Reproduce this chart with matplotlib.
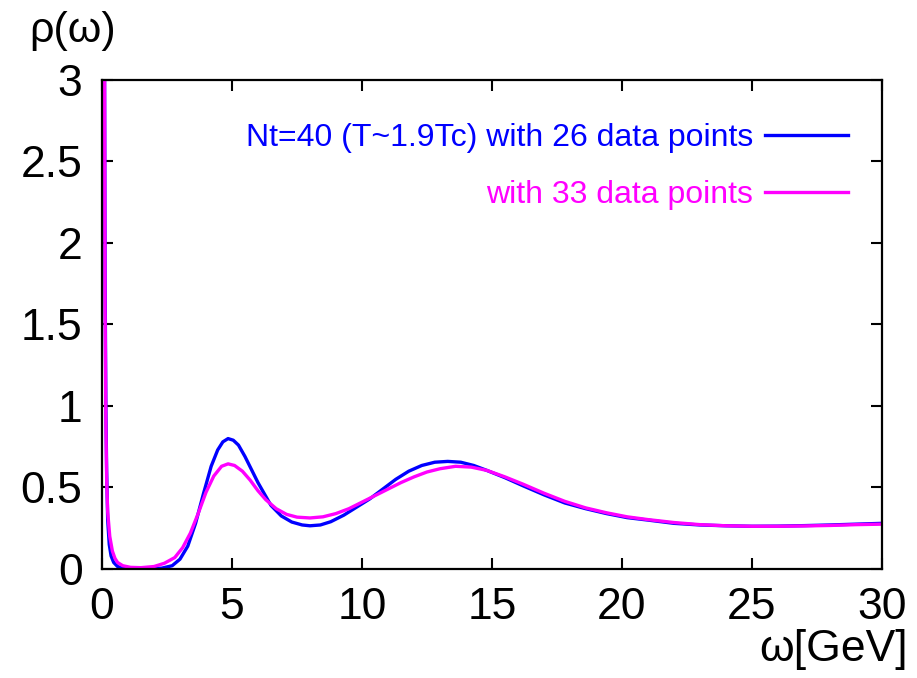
import matplotlib
matplotlib.use('Agg')
import matplotlib.pyplot as plt

plt.rcParams['font.family'] = ['Liberation Sans', 'DejaVu Sans']

# values, Nt=40, 26 data points (blue)
w_26 = [0.04, 0.08, 0.10, 0.12, 0.15, 0.18, 0.22, 0.28, 0.35, 0.45, 0.6, 0.8, 1.2, 1.8,
        2.3, 2.7, 3.0, 3.3, 3.6, 3.9, 4.2, 4.45, 4.65, 4.85, 5.05, 5.25, 5.5, 5.75,
        6.0, 6.25, 6.5, 6.9, 7.3, 7.7, 8.0, 8.4, 8.8, 9.3, 9.8, 10.3, 10.8, 11.3, 11.8,
        12.3, 12.8, 13.3, 13.8, 14.3, 14.8, 15.5, 16.2, 17.0, 17.8, 18.6, 19.4, 20.2,
        21.0, 22.0, 23.0, 24.0, 25.0, 26.0, 27.0, 28.0, 29.0, 30.0]
rho_26 = [8.0, 4.0, 3.0, 1.8, 1.0, 0.6, 0.3, 0.15, 0.08, 0.04, 0.015, 0.005, 0.0, 0.0,
          0.005, 0.02, 0.06, 0.14, 0.28, 0.46, 0.63, 0.73, 0.78, 0.80, 0.79, 0.76,
          0.69, 0.61, 0.53, 0.46, 0.39, 0.325, 0.288, 0.27, 0.265, 0.27, 0.29, 0.33,
          0.38, 0.43, 0.49, 0.55, 0.60, 0.635, 0.655, 0.66, 0.655, 0.635, 0.605, 0.56,
          0.51, 0.455, 0.405, 0.37, 0.34, 0.315, 0.30, 0.28, 0.27, 0.265, 0.262, 0.263,
          0.266, 0.27, 0.275, 0.28]

# 33 data points (magenta)
w_33 = [0.04, 0.08, 0.10, 0.12, 0.15, 0.18, 0.22, 0.3, 0.4, 0.5, 0.6, 0.8, 1.1, 1.5,
        2.0, 2.4, 2.8, 3.1, 3.4, 3.7, 4.0, 4.3, 4.6, 4.85, 5.1, 5.4, 5.7, 6.0, 6.3, 6.7,
        7.1, 7.5, 8.0, 8.5, 9.0, 9.5, 10.0, 10.5, 11.0, 11.5, 12.0, 12.5, 13.0, 13.6,
        14.2, 14.8, 15.5, 16.2, 17.0, 17.8, 18.6, 19.4, 20.2, 21.0, 22.0, 23.0, 24.0,
        25.0, 26.0, 27.0, 28.0, 29.0, 30.0]
rho_33 = [8.0, 4.0, 3.0, 1.6, 0.9, 0.55, 0.35, 0.2, 0.11, 0.065, 0.04, 0.02, 0.01, 0.008,
          0.015, 0.035, 0.07, 0.13, 0.22, 0.34, 0.47, 0.57, 0.63, 0.645, 0.635, 0.6,
          0.545, 0.48, 0.425, 0.37, 0.335, 0.318, 0.313, 0.32, 0.34, 0.37, 0.41, 0.45,
          0.49, 0.53, 0.565, 0.595, 0.615, 0.63, 0.625, 0.605, 0.565, 0.52, 0.465, 0.415,
          0.375, 0.345, 0.32, 0.303, 0.285, 0.272, 0.265, 0.262, 0.262, 0.264, 0.267,
          0.272, 0.275]

xticks = [0, 5, 10, 15, 20, 25, 30]
yticks = [0, 0.5, 1, 1.5, 2, 2.5, 3]
ytick_labels = ['0', '0.5', '1', '1.5', '2', '2.5', '3']

fig = plt.figure(figsize=(9.17, 6.78), dpi=100)
ax = fig.add_axes([0.1112, 0.1608, 0.8506, 0.7212])

ax.plot(w_26, rho_26, color='#0000ff', linewidth=2.4,
        label='Nt=40 (T~1.9Tc) with 26 data points')
ax.plot(w_33, rho_33, color='#ff00ff', linewidth=2.4,
        label='with 33 data points')

ax.set_xlim(0, 30)
ax.set_ylim(0, 3)
ax.set_xticks(xticks)
ax.set_yticks(yticks)
ax.set_yticklabels(ytick_labels)
ax.tick_params(direction='in', length=8, width=1.5, top=True, right=True,
               labelsize=32)
ax.tick_params(axis='y', pad=14)
ax.tick_params(axis='x', pad=13)
for s in ax.spines.values():
    s.set_linewidth(1.6)

fig.text(73 / 917, 1 - 31 / 678, 'ρ(ω)', fontsize=31, ha='center', va='center')
fig.text(908 / 917, 1 - 650 / 678, 'ω[GeV]', fontsize=32, ha='right', va='center')

# gnuplot-style key: text right-aligned, sample line to its right
leg = ax.legend(loc='upper right', bbox_to_anchor=(0.956, 0.912), frameon=False,
                fontsize=23, markerfirst=False, handlelength=2.6, handletextpad=0.35,
                labelspacing=0.84, borderpad=0, borderaxespad=0)
for t, c in zip(leg.get_texts(), ['#0000ff', '#ff00ff']):
    t.set_color(c)
    t.set_ha('right')
leg._legend_box.align = 'right'

fig.savefig('out.png', dpi=100, facecolor='w')
